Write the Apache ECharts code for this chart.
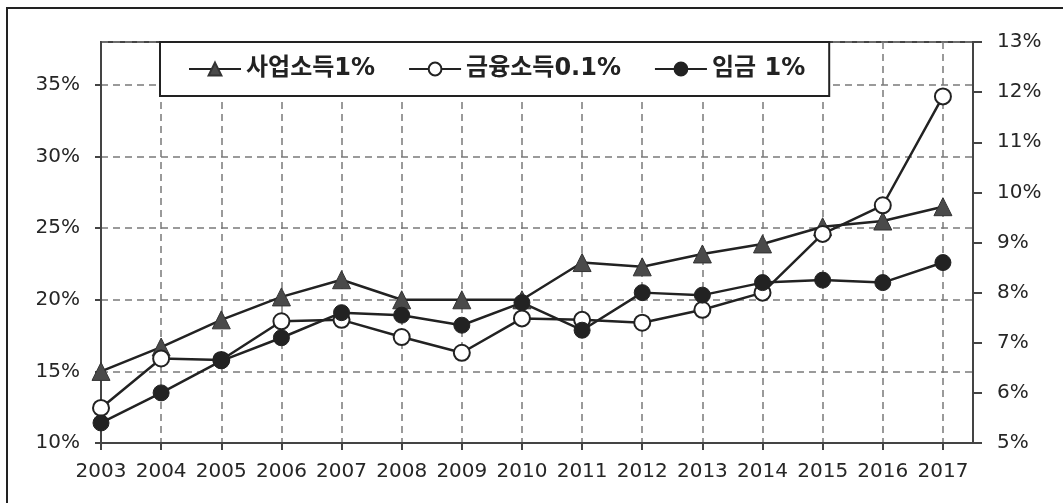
<!DOCTYPE html>
<html>
<head>
<meta charset="utf-8">
<script src="https://cdn.jsdelivr.net/npm/echarts@6/dist/echarts.min.js"></script>
<style>
  html, body { margin: 0; padding: 0; background: #fff; }
  #main { width: 1063px; height: 503px; }
</style>
</head>
<body>
<div id="main"></div>
<script>
// 연도
var years = [2003, 2004, 2005, 2006, 2007, 2008, 2009, 2010, 2011, 2012, 2013, 2014, 2015, 2016, 2017];

// 왼쪽 축 (%)
var bizIncome = [15.0, 16.7, 18.6, 20.2, 21.4, 20.0, 20.0, 20.0, 22.6, 22.3, 23.2, 23.9, 25.1, 25.5, 26.5];
var finIncome = [12.45, 15.9, 15.8, 18.5, 18.6, 17.4, 16.3, 18.7, 18.6, 18.4, 19.3, 20.5, 24.6, 26.6, 34.2];
// 오른쪽 축 (%)
var wage = [5.4, 6.0, 6.64, 7.1, 7.6, 7.55, 7.35, 7.8, 7.25, 8.0, 7.95, 8.2, 8.25, 8.2, 8.6];

var names = ['사업소득1%', '금융소득0.1%', '임금 1%'];

function pairs(vals) {
    return years.map(function (y, i) { return [y, vals[i]]; });
}

var labelFont = { fontFamily: 'DejaVu Sans', fontSize: 20, color: '#262626' };
var dash = { color: '#7a7a7a', width: 1.5, type: [7, 5] };
var axisDark = { color: '#444', width: 2 };

var myChart = echarts.init(document.getElementById('main'));

var option = {
    backgroundColor: '#fff',
    animation: false,
    graphic: [{
        // 바깥 테두리 (위, 왼쪽만 보임)
        type: 'rect',
        shape: { x: 7, y: 8, width: 1200, height: 700 },
        style: { fill: 'none', stroke: '#222', lineWidth: 2 },
        silent: true
    }],
    grid: {
        left: 101, right: 90, top: 42, bottom: 60,
        show: true, borderColor: '#444', borderWidth: 2
    },
    legend: {
        data: names,
        left: 160, top: 42,
        padding: [15, 24, 15, 28],
        itemGap: 33,
        itemWidth: 52, itemHeight: 16,
        backgroundColor: '#fff',
        borderColor: '#222', borderWidth: 2,
        textStyle: { fontFamily: 'DejaVu Sans, Noto Sans CJK KR', fontSize: 24, fontWeight: 'bold', color: '#222' },
        z: 10
    },
    xAxis: {
        type: 'value',
        min: 2003, max: 2017.5, interval: 1,
        axisLine: { lineStyle: axisDark },
        axisTick: { length: 7, lineStyle: axisDark },
        axisLabel: Object.assign({
            margin: 19,
            showMaxLabel: false,
            formatter: function (v) { return v % 1 === 0 ? String(v) : ''; }
        }, labelFont),
        splitLine: { show: true, lineStyle: dash }
    },
    yAxis: [{
        type: 'value',
        min: 10, max: 38, interval: 5,
        axisLine: { show: true, lineStyle: axisDark },
        axisTick: { show: true, length: 6, lineStyle: axisDark },
        axisLabel: Object.assign({
            margin: 21,
            showMaxLabel: false,
            formatter: '{value}%'
        }, labelFont),
        splitLine: { show: true, lineStyle: dash }
    }, {
        type: 'value',
        min: 5, max: 13, interval: 1,
        axisLine: { show: true, lineStyle: axisDark },
        axisTick: { show: true, length: 9, lineStyle: axisDark },
        axisLabel: Object.assign({
            margin: 24,
            formatter: '{value}%'
        }, labelFont),
        splitLine: { show: false }
    }],
    series: [{
        name: names[0],
        type: 'line',
        yAxisIndex: 0,
        data: pairs(bizIncome),
        symbol: 'triangle', symbolSize: 18,
        lineStyle: { color: '#222', width: 2.5 },
        itemStyle: { color: '#4a4a4a', borderColor: '#333', borderWidth: 1 }
    }, {
        name: names[1],
        type: 'line',
        yAxisIndex: 0,
        data: pairs(finIncome),
        symbol: 'circle', symbolSize: 16,
        lineStyle: { color: '#222', width: 2.5 },
        itemStyle: { color: '#fff', borderColor: '#222', borderWidth: 2 }
    }, {
        name: names[2],
        type: 'line',
        yAxisIndex: 1,
        data: pairs(wage),
        symbol: 'circle', symbolSize: 16,
        lineStyle: { color: '#222', width: 2.5 },
        itemStyle: { color: '#222', borderColor: '#222', borderWidth: 1 }
    }]
};

myChart.setOption(option);
</script>
</body>
</html>
